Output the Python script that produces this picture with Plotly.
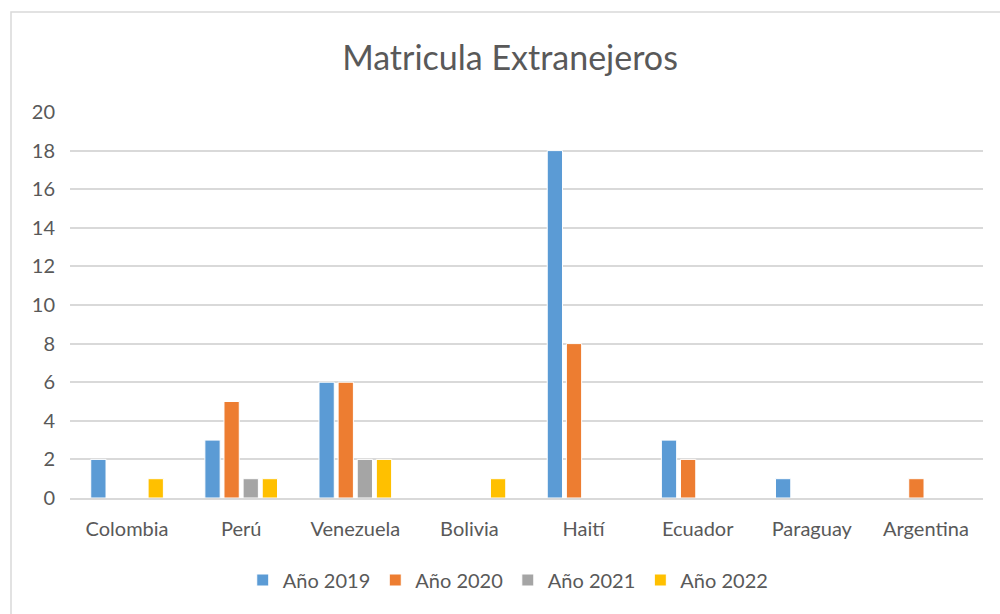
import plotly.graph_objects as go

categories = ["Colombia", "Perú", "Venezuela", "Bolivia", "Haití", "Ecuador", "Paraguay", "Argentina"]
series_names = ["Año 2019", "Año 2020", "Año 2021", "Año 2022"]
v2019 = [2, 3, 6, 0, 18, 3, 1, 0]
v2020 = [0, 5, 6, 0, 8, 2, 0, 1]
v2021 = [0, 1, 2, 0, 0, 0, 0, 0]
v2022 = [1, 1, 2, 1, 0, 0, 0, 0]
y_ticks = [0, 2, 4, 6, 8, 10, 12, 14, 16, 18, 20]
title_text = "Matricula Extranejeros"

colors = ["#5B9BD5", "#ED7D31", "#A5A5A5", "#FFC000"]
FONT = "Lato"
TXT = "#595959"

fig = go.Figure()
for name, vals, c in zip(series_names, [v2019, v2020, v2021, v2022], colors):
    fig.add_trace(go.Bar(x=categories, y=vals, name=name, marker_color=c,
                         marker_line=dict(color="white", width=1)))

L, R, T, B = 70, 17, 112, 116
W, H = 1000, 614
pw, ph = W - L - R, H - T - B

fig.update_layout(
    width=W, height=H,
    margin=dict(l=L, r=R, t=T, b=B),
    paper_bgcolor="white", plot_bgcolor="white",
    barmode="group", bargap=0.33, bargroupgap=0.2,
    font=dict(family=FONT, color=TXT, size=20),
    title=dict(text=title_text, x=0.51, xanchor="center", y=1 - 58 / H, yanchor="middle",
               yref="container", font=dict(size=34, color=TXT, family=FONT)),
    legend=dict(orientation="h", x=0.48, xanchor="center", y=(498 - 580) / ph, yanchor="middle",
                font=dict(size=20, color=TXT), itemwidth=30, traceorder="normal"),
    xaxis=dict(showgrid=False, showline=True, linecolor="#d9d9d9", linewidth=1.5,
               ticks="outside", ticklen=12, tickcolor="rgba(0,0,0,0)",
               tickfont=dict(size=20, color=TXT)),
    yaxis=dict(range=[0, 20], tickvals=y_ticks, showgrid=True, gridcolor="#d9d9d9", gridwidth=1.5,
               zeroline=False, showline=False, ticks="outside", ticklen=10,
               tickcolor="rgba(0,0,0,0)", tickfont=dict(size=20, color=TXT)),
    shapes=[dict(type="rect", xref="paper", yref="paper",
                 x0=(11 - L) / pw, x1=(1020 - L) / pw,
                 y0=(498 - 640) / ph, y1=(498 - 12) / ph,
                 line=dict(color="#d9d9d9", width=1.5), fillcolor="rgba(0,0,0,0)", layer="below")],
)

fig.write_html("out.html", config={"displayModeBar": False},
               post_script="document.body.style.margin='0px';")
